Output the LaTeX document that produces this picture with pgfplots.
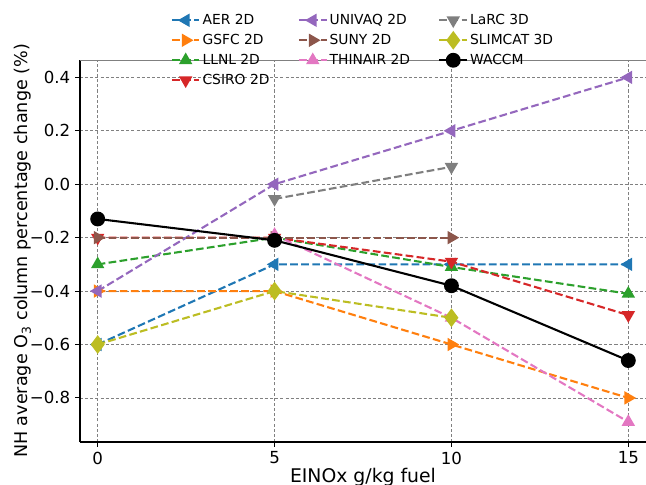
\documentclass[border=0pt]{standalone}
\usepackage{fontspec}
\setmainfont{DejaVu Sans}
\usepackage{pgfplots}
\pgfplotsset{compat=1.18}
\definecolor{tblue}{HTML}{1F77B4}
\definecolor{torange}{HTML}{FF7F0E}
\definecolor{tgreen}{HTML}{2CA02C}
\definecolor{tred}{HTML}{D62728}
\definecolor{tpurple}{HTML}{9467BD}
\definecolor{tbrown}{HTML}{8C564B}
\definecolor{tpink}{HTML}{E377C2}
\definecolor{tgray}{HTML}{7F7F7F}
\definecolor{tolive}{HTML}{BCBD22}

\pgfplotsset{
  ds/.style={line width=1.5bp, dash pattern=on 5.55bp off 2.4bp},
  aer/.style={ds, color=tblue, mark=triangle*, mark size=4.1bp, mark options={solid, rotate=90}},
  gsfc/.style={ds, color=torange, mark=triangle*, mark size=4.1bp, mark options={solid, rotate=-90}},
  llnl/.style={ds, color=tgreen, mark=triangle*, mark size=4.1bp, mark options={solid}},
  csiro/.style={ds, color=tred, mark=triangle*, mark size=4.1bp, mark options={solid, rotate=180}},
  univaq/.style={ds, color=tpurple, mark=triangle*, mark size=4.1bp, mark options={solid, rotate=90}},
  suny/.style={ds, color=tbrown, mark=triangle*, mark size=4.1bp, mark options={solid, rotate=-90}},
  thinair/.style={ds, color=tpink, mark=triangle*, mark size=4.1bp, mark options={solid}},
  larc/.style={ds, color=tgray, mark=triangle*, mark size=4.1bp, mark options={solid, rotate=180}},
  slimcat/.style={ds, color=tolive, mark=diamond*, mark size=5.5bp, mark options={solid}},
  waccm/.style={line width=1.5bp, color=black, mark=*, mark size=4.6bp, mark options={solid}},
}

\begin{document}
\begin{tikzpicture}
\useasboundingbox (-57.6bp,-30.96bp) rectangle (407.52bp,318.24bp);
\begin{axis}[
  scale only axis,
  width=407.52bp, height=275.04bp,
  xmin=-0.5, xmax=15.5, ymin=-0.965, ymax=0.465,
  axis x line*=bottom, axis y line*=left,
  axis line style={black, line width=0.8bp},
  tick align=outside,
  major tick length=3.5bp,
  tick style={black, line width=0.8bp},
  xtick={0,5,10,15}, xticklabels={0,5,10,15},
  ytick={-0.8,-0.6,-0.4,-0.2,0,0.2,0.4},
  yticklabels={−0.8,−0.6,−0.4,−0.2,0.0,0.2,0.4},
  ticklabel style={font=\fontsize{12}{14}\selectfont},
  grid=major,
  grid style={gray, line width=0.6bp, dash pattern=on 2.2bp off 1.5bp},
  xlabel={EINOx g/kg fuel},
  ylabel={NH average O\textsubscript{3} column percentage change (\%)},
  every axis x label/.style={at={(rel axis cs:0.5,0)}, anchor=base, yshift=-28.8bp, font=\fontsize{13.6}{15}\selectfont},
  every axis y label/.style={at={(rel axis cs:0,0.5)}, anchor=center, rotate=90, yshift=41.4bp, font=\fontsize{12.7}{14}\selectfont},
  legend columns=3,
  legend cell align=left,
  legend style={at={(0.5,1)}, anchor=north, yshift=35bp, draw=none, fill=none,
    inner sep=0pt, font=\fontsize{10}{12}\selectfont, row sep=2bp,
    nodes={inner sep=1.5bp, text height=7.4bp, text depth=2bp},
    /tikz/every even column/.append style={column sep=19bp}},
  legend image code/.code={\draw[mark repeat=2, mark phase=2] plot coordinates {(0cm,0cm) (0.35cm,0cm) (0.7cm,0cm)};},
]
% AER 2D
\addplot[aer, forget plot] coordinates {(0,-0.6) (5,-0.3) (10,-0.3) (15,-0.3)};
% GSFC 2D
\addplot[gsfc, forget plot] coordinates {(0,-0.4) (5,-0.4) (10,-0.6) (15,-0.8)};
% LLNL 2D
\addplot[llnl, forget plot] coordinates {(0,-0.3) (5,-0.2) (10,-0.31) (15,-0.41)};
% CSIRO 2D
\addplot[csiro, forget plot] coordinates {(0,-0.2) (5,-0.2) (10,-0.29) (15,-0.49)};
% UNIVAQ 2D
\addplot[univaq, forget plot] coordinates {(0,-0.4) (5,0.0) (10,0.2) (15,0.4)};
% SUNY 2D
\addplot[suny, forget plot] coordinates {(0,-0.2) (5,-0.2) (10,-0.2)};
% THINAIR 2D
\addplot[thinair, forget plot] coordinates {(5,-0.19) (10,-0.5) (15,-0.89)};
% LaRC 3D
\addplot[larc, forget plot] coordinates {(5,-0.055) (10,0.065)};
% SLIMCAT 3D
\addplot[slimcat, forget plot] coordinates {(0,-0.6) (5,-0.4) (10,-0.5)};
% WACCM
\addplot[waccm, forget plot] coordinates {(0,-0.13) (5,-0.21) (10,-0.38) (15,-0.66)};

% legend filled row by row, so entries go in this order
\addlegendimage{aer}\addlegendentry{AER 2D}
\addlegendimage{univaq}\addlegendentry{UNIVAQ 2D}
\addlegendimage{larc}\addlegendentry{LaRC 3D}
\addlegendimage{gsfc}\addlegendentry{GSFC 2D}
\addlegendimage{suny}\addlegendentry{SUNY 2D}
\addlegendimage{slimcat}\addlegendentry{SLIMCAT 3D}
\addlegendimage{llnl}\addlegendentry{LLNL 2D}
\addlegendimage{thinair}\addlegendentry{THINAIR 2D}
\addlegendimage{waccm}\addlegendentry{WACCM}
\addlegendimage{csiro}\addlegendentry{CSIRO 2D}

\draw[gray, line width=1bp] (rel axis cs:0,1) -- (rel axis cs:1,1);
\end{axis}
\end{tikzpicture}
\end{document}
